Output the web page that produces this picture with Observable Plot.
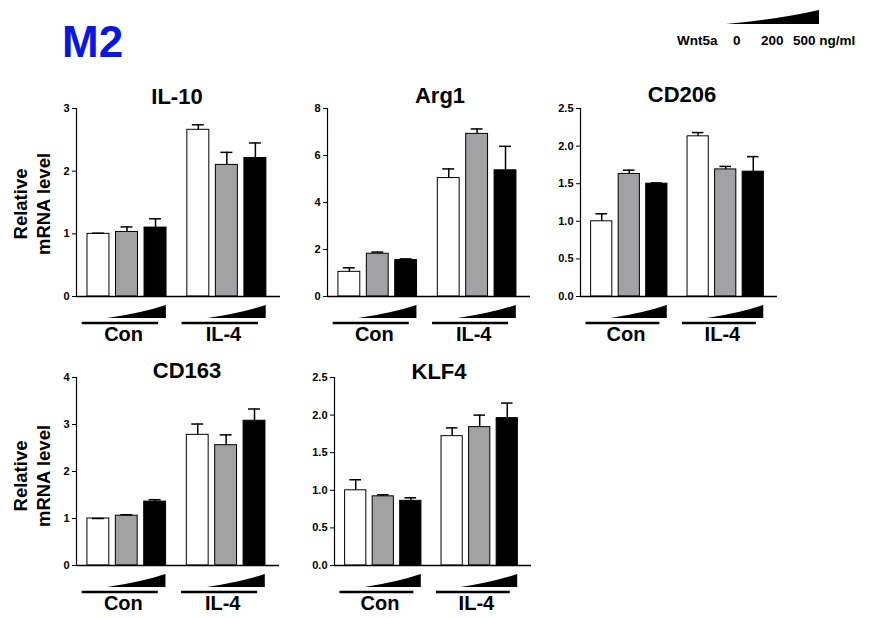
<!DOCTYPE html>
<html><head><meta charset="utf-8">
<script src="https://cdn.jsdelivr.net/npm/d3@7"></script>
<script src="https://cdn.jsdelivr.net/npm/@observablehq/plot@0.6"></script>
<style>
body{margin:0;background:#fff;}
#root{position:relative;width:873px;height:618px;overflow:hidden;background:#fff;font-family:"Liberation Sans",Arial,sans-serif;}
.panel{position:absolute;}
#overlay{position:absolute;left:0;top:0;}
</style></head><body><div id="root"></div>
<script>
// ---------- data ----------
const groups = ["Con", "IL-4"];
const doses = ["0", "200", "500"];
const doseUnit = "ng/ml";
const treatment = "Wnt5a";
const genes = ["IL-10", "Arg1", "CD206", "CD163", "KLF4"];

const il10Mean  = [1.00, 1.03, 1.10, 2.66, 2.10, 2.21];
const il10Err   = [0.01, 0.08, 0.14, 0.08, 0.20, 0.24];
const arg1Mean  = [1.05, 1.82, 1.55, 5.04, 6.92, 5.37];
const arg1Err   = [0.17, 0.07, 0.05, 0.39, 0.21, 1.02];
const cd206Mean = [1.00, 1.63, 1.50, 2.13, 1.69, 1.66];
const cd206Err  = [0.10, 0.05, 0.01, 0.05, 0.04, 0.20];
const cd163Mean = [1.00, 1.06, 1.36, 2.78, 2.56, 3.08];
const cd163Err  = [0.00, 0.02, 0.04, 0.23, 0.22, 0.25];
const klf4Mean  = [1.00, 0.92, 0.86, 1.72, 1.84, 1.96];
const klf4Err   = [0.14, 0.02, 0.04, 0.11, 0.16, 0.20];

const yMax = [3, 8, 2.5, 4, 2.5];
const yTicks = [[0,1,2,3],[0,2,4,6,8],[0,0.5,1,1.5,2,2.5],[0,1,2,3,4],[0,0.5,1,1.5,2,2.5]];
const tickDecimals = [0, 0, 1, 0, 1];
const yLabel = ["Relative", "mRNA level"];

const means = [il10Mean, arg1Mean, cd206Mean, cd163Mean, klf4Mean];
const errs  = [il10Err, arg1Err, cd206Err, cd163Err, klf4Err];

// ---------- layout ----------
const layout = [
  {axisX: 76,  topY: 108, len: 204, title: [177, 104]},
  {axisX: 327, topY: 108, len: 203, title: [440, 103]},
  {axisX: 580, topY: 107.5, len: 197, title: [682, 102]},
  {axisX: 76,  topY: 377, len: 203, title: [187, 378]},
  {axisX: 334, topY: 377, len: 197, title: [439, 379]}
];
const PLOT_H = 188, ML = 30, MT = 6, MB = 62, MR = 2;
const X_DOMAIN = 7.15, GROUP_STEP = 3.5, FIRST = 0.77, HALF = 0.385, CAP = 0.21;
const FONT = "Liberation Sans, Arial, sans-serif";
const root = document.getElementById("root");

function doseWedges(index, scales, values, dims) {
  const x = scales.x;
  const y0 = dims.height - dims.marginBottom;
  const g = d3.create("svg:g");
  groups.forEach((grp, gi) => {
    const o = gi * GROUP_STEP;
    g.append("path")
      .attr("d", `M${x(o + 1.1)},${y0 + 22}Q${x(o + 2.3)},${y0 + 17} ${x(o + 3.15)},${y0 + 9}L${x(o + 3.15)},${y0 + 22}Z`)
      .attr("fill", "black");
    g.append("line")
      .attr("x1", x(o + 0.2)).attr("x2", x(o + 2.88))
      .attr("y1", y0 + 27).attr("y2", y0 + 27)
      .attr("stroke", "black").attr("stroke-width", 2.5);
  });
  return g.node();
}

genes.forEach((gene, k) => {
  const L = layout[k];
  const rows = [];
  groups.forEach((grp, gi) => doses.forEach((dose, di) => {
    const j = gi * doses.length + di;
    rows.push({gene, group: grp, dose, mean: means[k][j], err: errs[k][j], c: FIRST + gi * GROUP_STEP + di});
  }));
  const fmt = d3.format(`.${tickDecimals[k]}f`);
  const chart = Plot.plot({
    width: ML + L.len + MR,
    height: MT + PLOT_H + MB,
    marginLeft: ML, marginRight: MR, marginTop: MT, marginBottom: MB,
    style: {fontFamily: FONT, fontSize: "11px", fontWeight: "bold", color: "black", background: "transparent", overflow: "visible"},
    x: {type: "linear", domain: [0, X_DOMAIN], axis: null},
    y: {domain: [0, yMax[k]], axis: null},
    color: {type: "ordinal", domain: doses, range: ["white", "#a2a2a5", "black"]},
    marks: [
      Plot.axisY(yTicks[k], {tickSize: 4, tickPadding: 3, tickFormat: fmt, label: null, fontWeight: "bold", fontSize: 11}),
      Plot.ruleX([0], {y1: () => 0, y2: () => yMax[k], strokeWidth: 1.2}),
      Plot.rect(rows, {x1: d => d.c - HALF, x2: d => d.c + HALF, y1: () => 0, y2: "mean", fill: "dose", stroke: "black", strokeWidth: 1}),
      Plot.ruleX(rows, {x: "c", y1: "mean", y2: d => d.mean + d.err, strokeWidth: 1.5}),
      Plot.ruleY(rows, {y: d => d.mean + d.err, x1: d => d.c - CAP, x2: d => d.c + CAP, strokeWidth: 1.5}),
      Plot.ruleY([0], {strokeWidth: 1.6}),
      doseWedges,
      Plot.text(groups, {x: (d, i) => i * GROUP_STEP + 1.65, frameAnchor: "bottom", dy: 44, text: d => d, fontSize: 20, fontWeight: "bold", fill: "black"})
    ]
  });
  chart.classList.add("panel");
  chart.style.left = (L.axisX - ML) + "px";
  chart.style.top = (L.topY - MT) + "px";
  root.appendChild(chart);
});

// ---------- overlay texts ----------
const svg = d3.select(root).append("svg").attr("id", "overlay")
  .attr("width", 873).attr("height", 618)
  .style("font-family", FONT).style("font-weight", "bold");

svg.append("text").attr("x", 62).attr("y", 57).attr("font-size", 44).attr("fill", "#0c17dd").text("M2");

genes.forEach((gene, k) => {
  svg.append("text").attr("x", layout[k].title[0]).attr("y", layout[k].title[1])
    .attr("text-anchor", "middle").attr("font-size", 22).text(gene);
});

[204, 476].forEach(cy => {
  [[27, yLabel[0]], [50, yLabel[1]]].forEach(([bx, t]) => {
    svg.append("text").attr("transform", `translate(${bx},${cy}) rotate(-90)`)
      .attr("text-anchor", "middle").attr("font-size", 18.5).text(t);
  });
});

// dose legend
svg.append("path").attr("d", "M726,24Q780,19 819,10L819,24Z").attr("fill", "black");
const legendItems = [[677, treatment], [733, doses[0]], [761, doses[1]], [793, doses[2] + " " + doseUnit]];
legendItems.forEach(([x, t]) => {
  svg.append("text").attr("x", x).attr("y", 45).attr("font-size", 13.5).text(t);
});
</script>
</body></html>
